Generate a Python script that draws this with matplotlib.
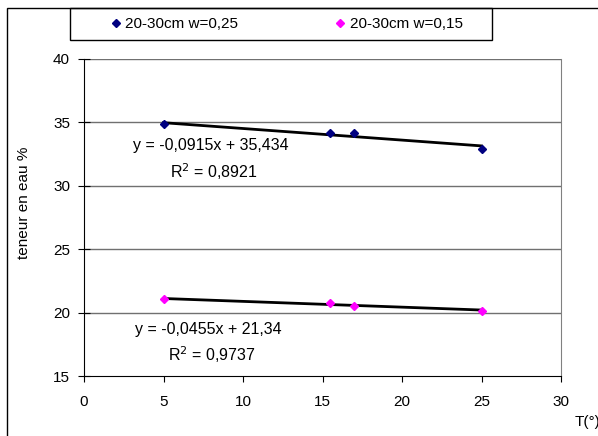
import numpy as np
import matplotlib
matplotlib.use("Agg")
import matplotlib.pyplot as plt
from matplotlib.patches import Rectangle
from matplotlib.lines import Line2D

plt.rcParams['font.family'] = ['Liberation Sans', 'DejaVu Sans']

# data
temp = [5, 15.5, 17, 25]
w25 = [34.9, 34.2, 34.2, 32.9]
w15 = [21.1, 20.75, 20.55, 20.15]
# trendline coefficients (slope, intercept) as printed on the chart
fit25 = [-0.0915, 35.434]
fit15 = [-0.0455, 21.34]
eq25 = ["y = -0,0915x + 35,434", "R$^2$ = 0,8921"]
eq15 = ["y = -0,0455x + 21,34", "R$^2$ = 0,9737"]
labels = ["20-30cm w=0,25", "20-30cm w=0,15"]
xticks = [0, 5, 10, 15, 20, 25, 30]
yticks = [15, 20, 25, 30, 35, 40]

W, H = 598, 436
fig = plt.figure(figsize=(W / 100, H / 100), dpi=100)
ax = fig.add_axes([84 / W, 1 - 376 / H, (561 - 84) / W, (376 - 59) / H])

ax.set_xlim(0, 30)
ax.set_ylim(15, 40)
ax.set_xticks(xticks)
ax.set_yticks(yticks)
for y in yticks[1:]:
    ax.axhline(y, color='#707070', lw=1, zorder=1)

xs = np.array([temp[0], temp[-1]])
ax.plot(xs, fit25[0] * xs + fit25[1], color='black', lw=2, zorder=2)
ax.plot(xs, fit15[0] * xs + fit15[1], color='black', lw=2, zorder=2)
ax.plot(temp, w25, 'D', color='#000080', ms=4.5, zorder=3)
ax.plot(temp, w15, 'D', color='#ff00ff', ms=4.5, zorder=3)

ax.text(3.1, 33.15, eq25[0], fontsize=11.5, va='center')
ax.text(5.4, 31.1, eq25[1], fontsize=11.5, va='center')
ax.text(3.2, 18.7, eq15[0], fontsize=11.5, va='center')
ax.text(5.3, 16.65, eq15[1], fontsize=11.5, va='center')

ax.spines['top'].set_visible(False)
ax.spines['right'].set_color('#808080')
ax.spines['left'].set_color('black')
ax.spines['bottom'].set_color('black')
ax.tick_params(axis='y', direction='inout', length=8, pad=6, labelsize=11)
ax.tick_params(axis='x', direction='out', length=4, pad=10, labelsize=11)

fig.text(24 / W, 1 - 203 / H, "teneur en eau %", rotation=90,
         fontsize=11, ha='center', va='center')
fig.text(575 / W, 1 - 422 / H, "T(°)", fontsize=11, ha='left', va='center')

# outer frame and legend box
fig.patches.append(Rectangle((7 / W, -0.1), 1.2, 1 - 8 / H + 0.1, transform=fig.transFigure,
                             fill=False, ec='black', lw=1))
fig.patches.append(Rectangle((70 / W, 1 - 40 / H), 422 / W, 32 / H, transform=fig.transFigure,
                             fill=False, ec='black', lw=1))
handles = [Line2D([], [], ls='none', marker='D', color='#000080', ms=4.5),
           Line2D([], [], ls='none', marker='D', color='#ff00ff', ms=4.5)]
fig.legend(handles, labels, loc='center', bbox_to_anchor=(287 / W, 1 - 24 / H),
           ncol=2, frameon=False, fontsize=11, handlelength=0.6, handletextpad=0.3,
           columnspacing=6.4)

fig.savefig("out.png", dpi=100)
